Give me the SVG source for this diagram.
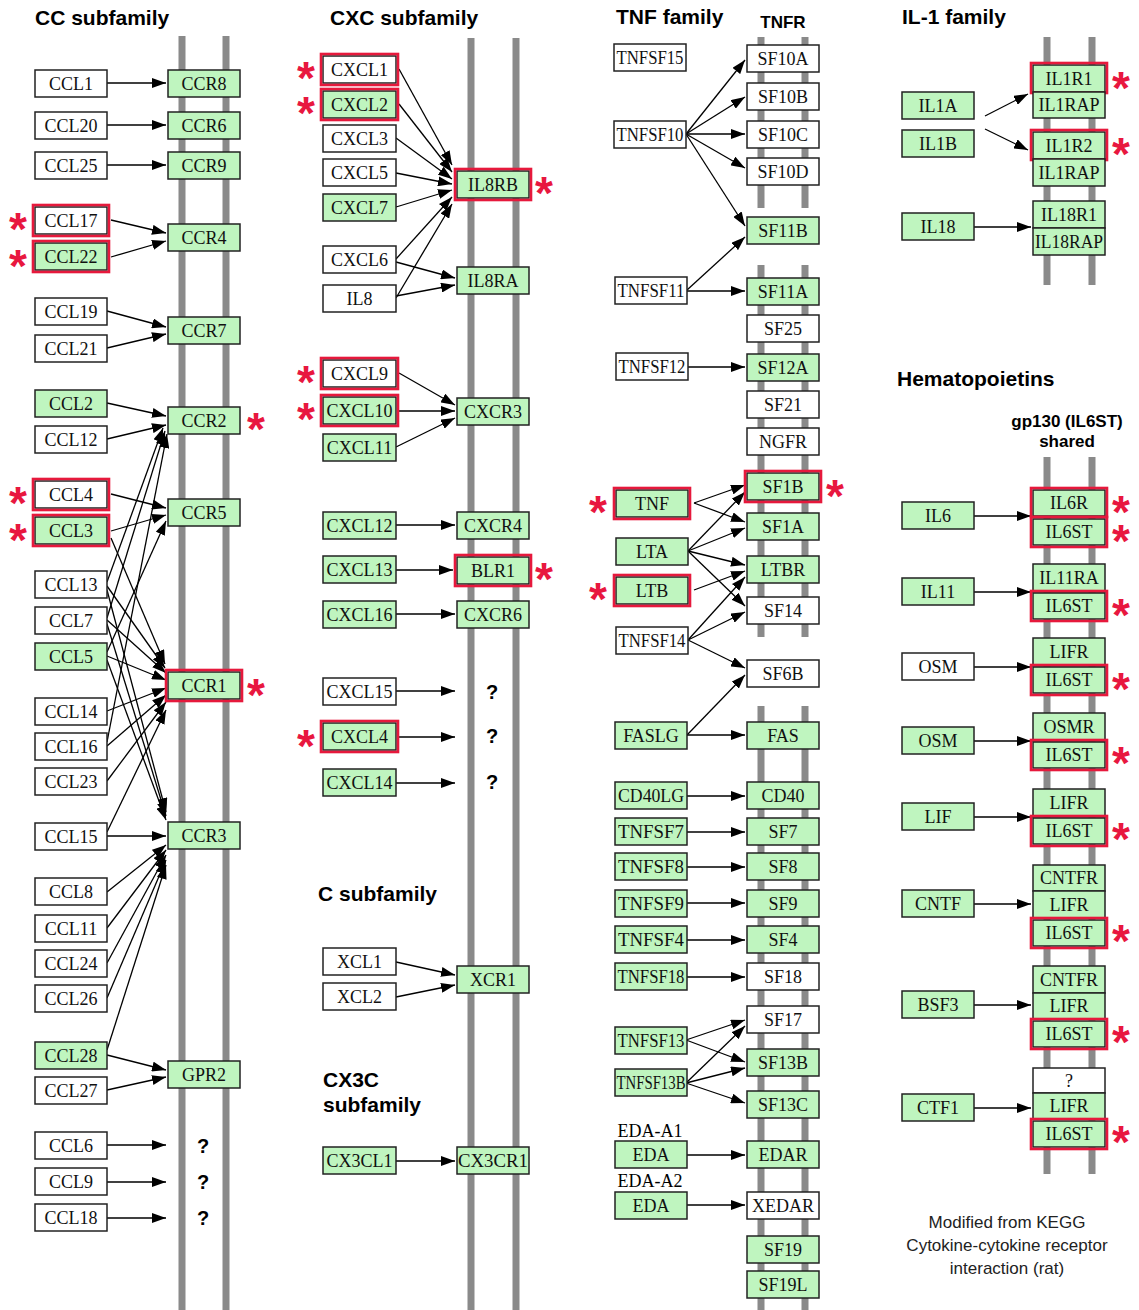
<svg xmlns="http://www.w3.org/2000/svg" width="1139" height="1310" viewBox="0 0 1139 1310">
<style>
.mem{stroke:#8a8a8a;stroke-width:7}
.b{fill:#fff;stroke:#222;stroke-width:1.5}
.g .b{fill:#bff5bf}
.hl{fill:none;stroke:#e6193c;stroke-width:2.6}
.nd text{font-family:"Liberation Serif","Times New Roman",serif;font-size:18px;text-anchor:middle;fill:#111}
.cn line{stroke:#000;stroke-width:1.3;marker-end:url(#ah)}
.ttl{font-family:"Liberation Sans",Arial,sans-serif;font-weight:bold;font-size:21px;fill:#000}
.sub{font-family:"Liberation Sans",Arial,sans-serif;font-weight:bold;font-size:17px;fill:#000;text-anchor:middle}
.q{font-family:"Liberation Sans",Arial,sans-serif;font-weight:bold;font-size:20px;text-anchor:middle}
.lbl{font-family:"Liberation Serif","Times New Roman",serif;font-size:18px;text-anchor:middle}
.note{font-family:"Liberation Sans",Arial,sans-serif;font-size:17px;text-anchor:middle;fill:#222}
.ast{font-family:"Liberation Sans",Arial,sans-serif;font-weight:bold;font-size:46px;fill:#e8173f;text-anchor:middle}
</style>
<defs>
<marker id="ah" viewBox="0 0 14 10" refX="14" refY="5" markerWidth="14" markerHeight="10" markerUnits="userSpaceOnUse" orient="auto"><path d="M0,0 L14,5 L0,10 z" fill="#000"/></marker>
</defs>
<rect width="1139" height="1310" fill="#fff"/>

<g id="titles">
<text class="ttl" x="35" y="25">CC subfamily</text>
<text class="ttl" x="330" y="25">CXC subfamily</text>
<text class="ttl" x="616" y="24">TNF family</text>
<text class="sub" x="783" y="28">TNFR</text>
<text class="ttl" x="902" y="24">IL-1 family</text>
<text class="ttl" x="318" y="901">C subfamily</text>
<text class="ttl" x="323" y="1087">CX3C</text>
<text class="ttl" x="323" y="1112">subfamily</text>
<text class="ttl" x="897" y="386">Hematopoietins</text>
<text class="sub" x="1067" y="427">gp130 (IL6ST)</text>
<text class="sub" x="1067" y="447">shared</text>
<text class="note" x="1007" y="1228">Modified from KEGG</text>
<text class="note" x="1007" y="1251">Cytokine-cytokine receptor</text>
<text class="note" x="1007" y="1274">interaction (rat)</text>
<text class="lbl" x="650" y="1137">EDA-A1</text>
<text class="lbl" x="650" y="1187">EDA-A2</text>
<text class="q" x="203" y="1153">?</text>
<text class="q" x="203" y="1189">?</text>
<text class="q" x="203" y="1225">?</text>
<text class="q" x="492" y="699">?</text>
<text class="q" x="492" y="743">?</text>
<text class="q" x="492" y="789">?</text>
</g>

<g id="membranes" class="mem">
<line x1="182" y1="36" x2="182" y2="1310"/><line x1="226" y1="36" x2="226" y2="1310"/>
<line x1="471" y1="38" x2="471" y2="1310"/><line x1="516" y1="38" x2="516" y2="1310"/>
<line x1="761" y1="37" x2="761" y2="208"/><line x1="805" y1="37" x2="805" y2="208"/>
<line x1="761" y1="265" x2="761" y2="637"/><line x1="805" y1="265" x2="805" y2="637"/>
<line x1="761" y1="706" x2="761" y2="1310"/><line x1="805" y1="706" x2="805" y2="1310"/>
<line x1="1047" y1="37" x2="1047" y2="285"/><line x1="1092" y1="37" x2="1092" y2="285"/>
<line x1="1047" y1="457" x2="1047" y2="1174"/><line x1="1092" y1="457" x2="1092" y2="1174"/>
</g>

<g id="connectors" class="cn">
<line x1="107" y1="83" x2="166" y2="83"/>
<line x1="107" y1="125" x2="166" y2="125"/>
<line x1="107" y1="165" x2="166" y2="165"/>
<line x1="111" y1="220" x2="166" y2="233"/>
<line x1="111" y1="257" x2="166" y2="241"/>
<line x1="107" y1="311" x2="166" y2="327"/>
<line x1="107" y1="348" x2="166" y2="334"/>
<line x1="107" y1="403" x2="166" y2="416"/>
<line x1="107" y1="439" x2="166" y2="425"/>
<line x1="107" y1="582" x2="163" y2="428"/>
<line x1="107" y1="618" x2="165" y2="431"/>
<line x1="107" y1="742" x2="167" y2="434"/>
<line x1="111" y1="494" x2="166" y2="508"/>
<line x1="111" y1="531" x2="166" y2="515"/>
<line x1="107" y1="652" x2="166" y2="521"/>
<line x1="111" y1="538" x2="165" y2="664"/>
<line x1="107" y1="586" x2="165" y2="668"/>
<line x1="107" y1="620" x2="166" y2="673"/>
<line x1="107" y1="656" x2="166" y2="680"/>
<line x1="107" y1="711" x2="166" y2="688"/>
<line x1="107" y1="746" x2="166" y2="695"/>
<line x1="107" y1="781" x2="166" y2="702"/>
<line x1="107" y1="832" x2="166" y2="710"/>
<line x1="107" y1="590" x2="166" y2="812"/>
<line x1="107" y1="624" x2="166" y2="816"/>
<line x1="107" y1="660" x2="166" y2="820"/>
<line x1="107" y1="836" x2="166" y2="836"/>
<line x1="107" y1="892" x2="166" y2="845"/>
<line x1="107" y1="928" x2="166" y2="850"/>
<line x1="107" y1="963" x2="166" y2="855"/>
<line x1="107" y1="998" x2="166" y2="860"/>
<line x1="107" y1="1050" x2="166" y2="865"/>
<line x1="107" y1="1055" x2="166" y2="1070"/>
<line x1="107" y1="1090" x2="166" y2="1077"/>
<line x1="107" y1="1145" x2="166" y2="1145"/>
<line x1="107" y1="1182" x2="166" y2="1182"/>
<line x1="107" y1="1218" x2="166" y2="1218"/>

<line x1="399" y1="69" x2="452" y2="165"/>
<line x1="399" y1="104" x2="452" y2="172"/>
<line x1="396" y1="138" x2="452" y2="179"/>
<line x1="396" y1="173" x2="452" y2="184"/>
<line x1="396" y1="207" x2="452" y2="190"/>
<line x1="396" y1="259" x2="452" y2="197"/>
<line x1="396" y1="298" x2="452" y2="204"/>
<line x1="396" y1="262" x2="455" y2="278"/>
<line x1="396" y1="296" x2="455" y2="285"/>
<line x1="399" y1="373" x2="455" y2="405"/>
<line x1="399" y1="411" x2="455" y2="411"/>
<line x1="396" y1="447" x2="455" y2="418"/>
<line x1="396" y1="525" x2="455" y2="525"/>
<line x1="396" y1="570" x2="453" y2="570"/>
<line x1="396" y1="614" x2="455" y2="614"/>
<line x1="396" y1="691" x2="455" y2="691"/>
<line x1="399" y1="737" x2="455" y2="737"/>
<line x1="396" y1="783" x2="455" y2="783"/>
<line x1="396" y1="962" x2="455" y2="975"/>
<line x1="396" y1="997" x2="455" y2="985"/>
<line x1="396" y1="1161" x2="455" y2="1161"/>

<line x1="686" y1="134" x2="745" y2="60"/>
<line x1="686" y1="134" x2="745" y2="97"/>
<line x1="686" y1="134" x2="745" y2="134"/>
<line x1="686" y1="134" x2="745" y2="168"/>
<line x1="686" y1="134" x2="745" y2="226"/>
<line x1="687" y1="290" x2="745" y2="237"/>
<line x1="687" y1="291" x2="745" y2="291"/>
<line x1="688" y1="367" x2="745" y2="367"/>
<line x1="694" y1="503" x2="745" y2="485"/>
<line x1="694" y1="503" x2="745" y2="522"/>
<line x1="688" y1="551" x2="745" y2="492"/>
<line x1="688" y1="551" x2="745" y2="528"/>
<line x1="688" y1="551" x2="745" y2="565"/>
<line x1="688" y1="551" x2="745" y2="606"/>
<line x1="694" y1="590" x2="745" y2="571"/>
<line x1="688" y1="640" x2="745" y2="577"/>
<line x1="688" y1="640" x2="745" y2="612"/>
<line x1="688" y1="640" x2="745" y2="668"/>
<line x1="687" y1="735" x2="745" y2="675"/>
<line x1="687" y1="735" x2="745" y2="735"/>
<line x1="686" y1="796" x2="745" y2="796"/>
<line x1="686" y1="832" x2="745" y2="832"/>
<line x1="686" y1="867" x2="745" y2="867"/>
<line x1="686" y1="903" x2="745" y2="903"/>
<line x1="686" y1="940" x2="745" y2="940"/>
<line x1="686" y1="977" x2="745" y2="977"/>
<line x1="686" y1="1040" x2="745" y2="1020"/>
<line x1="686" y1="1040" x2="745" y2="1062"/>
<line x1="686" y1="1083" x2="745" y2="1026"/>
<line x1="686" y1="1083" x2="745" y2="1068"/>
<line x1="686" y1="1083" x2="745" y2="1103"/>
<line x1="686" y1="1155" x2="745" y2="1155"/>
<line x1="686" y1="1205" x2="745" y2="1205"/>

<line x1="985" y1="116" x2="1028" y2="94"/>
<line x1="985" y1="129" x2="1028" y2="150"/>
<line x1="974" y1="227" x2="1031" y2="227"/>
<line x1="974" y1="516" x2="1031" y2="516"/>
<line x1="974" y1="592" x2="1031" y2="592"/>
<line x1="974" y1="667" x2="1031" y2="667"/>
<line x1="974" y1="741" x2="1031" y2="741"/>
<line x1="974" y1="817" x2="1031" y2="817"/>
<line x1="974" y1="904" x2="1031" y2="904"/>
<line x1="974" y1="1005" x2="1031" y2="1005"/>
<line x1="974" y1="1108" x2="1031" y2="1108"/>
</g>

<g id="nodes">
<g id="CCL1" class="nd"><rect class="b" x="35" y="70" width="72" height="27"/><text x="71" y="89.5">CCL1</text></g>
<g id="CCL20" class="nd"><rect class="b" x="35" y="112" width="72" height="27"/><text x="71" y="131.5">CCL20</text></g>
<g id="CCL25" class="nd"><rect class="b" x="35" y="152" width="72" height="27"/><text x="71" y="171.5">CCL25</text></g>
<g id="CCL17" class="nd"><rect class="b" x="35" y="207" width="72" height="27"/><rect class="hl" x="33" y="205" width="76" height="31"/><text x="71" y="226.5">CCL17</text></g>
<g id="CCL22" class="nd g"><rect class="b" x="35" y="243" width="72" height="27"/><rect class="hl" x="33" y="241" width="76" height="31"/><text x="71" y="262.5">CCL22</text></g>
<g id="CCL19" class="nd"><rect class="b" x="35" y="298" width="72" height="27"/><text x="71" y="317.5">CCL19</text></g>
<g id="CCL21" class="nd"><rect class="b" x="35" y="335" width="72" height="27"/><text x="71" y="354.5">CCL21</text></g>
<g id="CCL2" class="nd g"><rect class="b" x="35" y="390" width="72" height="27"/><text x="71" y="409.5">CCL2</text></g>
<g id="CCL12" class="nd"><rect class="b" x="35" y="426" width="72" height="27"/><text x="71" y="445.5">CCL12</text></g>
<g id="CCL4" class="nd"><rect class="b" x="35" y="481" width="72" height="27"/><rect class="hl" x="33" y="479" width="76" height="31"/><text x="71" y="500.5">CCL4</text></g>
<g id="CCL3" class="nd g"><rect class="b" x="35" y="517" width="72" height="27"/><rect class="hl" x="33" y="515" width="76" height="31"/><text x="71" y="536.5">CCL3</text></g>
<g id="CCL13" class="nd"><rect class="b" x="35" y="571" width="72" height="27"/><text x="71" y="590.5">CCL13</text></g>
<g id="CCL7" class="nd"><rect class="b" x="35" y="607" width="72" height="27"/><text x="71" y="626.5">CCL7</text></g>
<g id="CCL5" class="nd g"><rect class="b" x="35" y="643" width="72" height="27"/><text x="71" y="662.5">CCL5</text></g>
<g id="CCL14" class="nd"><rect class="b" x="35" y="698" width="72" height="27"/><text x="71" y="717.5">CCL14</text></g>
<g id="CCL16" class="nd"><rect class="b" x="35" y="733" width="72" height="27"/><text x="71" y="752.5">CCL16</text></g>
<g id="CCL23" class="nd"><rect class="b" x="35" y="768" width="72" height="27"/><text x="71" y="787.5">CCL23</text></g>
<g id="CCL15" class="nd"><rect class="b" x="35" y="823" width="72" height="27"/><text x="71" y="842.5">CCL15</text></g>
<g id="CCL8" class="nd"><rect class="b" x="35" y="878" width="72" height="27"/><text x="71" y="897.5">CCL8</text></g>
<g id="CCL11" class="nd"><rect class="b" x="35" y="915" width="72" height="27"/><text x="71" y="934.5">CCL11</text></g>
<g id="CCL24" class="nd"><rect class="b" x="35" y="950" width="72" height="27"/><text x="71" y="969.5">CCL24</text></g>
<g id="CCL26" class="nd"><rect class="b" x="35" y="985" width="72" height="27"/><text x="71" y="1004.5">CCL26</text></g>
<g id="CCL28" class="nd g"><rect class="b" x="35" y="1042" width="72" height="27"/><text x="71" y="1061.5">CCL28</text></g>
<g id="CCL27" class="nd"><rect class="b" x="35" y="1077" width="72" height="27"/><text x="71" y="1096.5">CCL27</text></g>
<g id="CCL6" class="nd"><rect class="b" x="35" y="1132" width="72" height="27"/><text x="71" y="1151.5">CCL6</text></g>
<g id="CCL9" class="nd"><rect class="b" x="35" y="1168" width="72" height="27"/><text x="71" y="1187.5">CCL9</text></g>
<g id="CCL18" class="nd"><rect class="b" x="35" y="1204" width="72" height="27"/><text x="71" y="1223.5">CCL18</text></g>
<g id="CCR8" class="nd g"><rect class="b" x="168" y="70" width="72" height="27"/><text x="204" y="89.5">CCR8</text></g>
<g id="CCR6" class="nd g"><rect class="b" x="168" y="112" width="72" height="27"/><text x="204" y="131.5">CCR6</text></g>
<g id="CCR9" class="nd g"><rect class="b" x="168" y="152" width="72" height="27"/><text x="204" y="171.5">CCR9</text></g>
<g id="CCR4" class="nd g"><rect class="b" x="168" y="224" width="72" height="27"/><text x="204" y="243.5">CCR4</text></g>
<g id="CCR7" class="nd g"><rect class="b" x="168" y="317" width="72" height="27"/><text x="204" y="336.5">CCR7</text></g>
<g id="CCR2" class="nd g"><rect class="b" x="168" y="407" width="72" height="27"/><text x="204" y="426.5">CCR2</text></g>
<g id="CCR5" class="nd g"><rect class="b" x="168" y="499" width="72" height="27"/><text x="204" y="518.5">CCR5</text></g>
<g id="CCR1" class="nd g"><rect class="b" x="168" y="672" width="72" height="27"/><rect class="hl" x="166" y="670" width="76" height="31"/><text x="204" y="691.5">CCR1</text></g>
<g id="CCR3" class="nd g"><rect class="b" x="168" y="822" width="72" height="27"/><text x="204" y="841.5">CCR3</text></g>
<g id="GPR2" class="nd g"><rect class="b" x="168" y="1061" width="72" height="27"/><text x="204" y="1080.5">GPR2</text></g>
<g id="CXCL1" class="nd"><rect class="b" x="323" y="56" width="73" height="27"/><rect class="hl" x="321" y="54" width="77" height="31"/><text x="359.5" y="75.5">CXCL1</text></g>
<g id="CXCL2" class="nd g"><rect class="b" x="323" y="91" width="73" height="27"/><rect class="hl" x="321" y="89" width="77" height="31"/><text x="359.5" y="110.5">CXCL2</text></g>
<g id="CXCL3" class="nd"><rect class="b" x="323" y="125" width="73" height="27"/><text x="359.5" y="144.5">CXCL3</text></g>
<g id="CXCL5" class="nd"><rect class="b" x="323" y="159" width="73" height="27"/><text x="359.5" y="178.5">CXCL5</text></g>
<g id="CXCL7" class="nd g"><rect class="b" x="323" y="194" width="73" height="27"/><text x="359.5" y="213.5">CXCL7</text></g>
<g id="CXCL6" class="nd"><rect class="b" x="323" y="246" width="73" height="27"/><text x="359.5" y="265.5">CXCL6</text></g>
<g id="IL8" class="nd"><rect class="b" x="323" y="285" width="73" height="27"/><text x="359.5" y="304.5">IL8</text></g>
<g id="CXCL9" class="nd"><rect class="b" x="323" y="360" width="73" height="27"/><rect class="hl" x="321" y="358" width="77" height="31"/><text x="359.5" y="379.5">CXCL9</text></g>
<g id="CXCL10" class="nd g"><rect class="b" x="323" y="397" width="73" height="27"/><rect class="hl" x="321" y="395" width="77" height="31"/><text x="359.5" y="416.5">CXCL10</text></g>
<g id="CXCL11" class="nd g"><rect class="b" x="323" y="434" width="73" height="27"/><text x="359.5" y="453.5">CXCL11</text></g>
<g id="CXCL12" class="nd g"><rect class="b" x="323" y="512" width="73" height="27"/><text x="359.5" y="531.5">CXCL12</text></g>
<g id="CXCL13" class="nd g"><rect class="b" x="323" y="556" width="73" height="27"/><text x="359.5" y="575.5">CXCL13</text></g>
<g id="CXCL16" class="nd g"><rect class="b" x="323" y="601" width="73" height="27"/><text x="359.5" y="620.5">CXCL16</text></g>
<g id="CXCL15" class="nd"><rect class="b" x="323" y="678" width="73" height="27"/><text x="359.5" y="697.5">CXCL15</text></g>
<g id="CXCL4" class="nd g"><rect class="b" x="323" y="723" width="73" height="27"/><rect class="hl" x="321" y="721" width="77" height="31"/><text x="359.5" y="742.5">CXCL4</text></g>
<g id="CXCL14" class="nd g"><rect class="b" x="323" y="769" width="73" height="27"/><text x="359.5" y="788.5">CXCL14</text></g>
<g id="XCL1" class="nd"><rect class="b" x="323" y="948" width="73" height="27"/><text x="359.5" y="967.5">XCL1</text></g>
<g id="XCL2" class="nd"><rect class="b" x="323" y="983" width="73" height="27"/><text x="359.5" y="1002.5">XCL2</text></g>
<g id="CX3CL1" class="nd g"><rect class="b" x="323" y="1147" width="73" height="27"/><text x="359.5" y="1166.5">CX3CL1</text></g>
<g id="IL8RB" class="nd g"><rect class="b" x="457" y="171" width="72" height="27"/><rect class="hl" x="455" y="169" width="76" height="31"/><text x="493" y="190.5">IL8RB</text></g>
<g id="IL8RA" class="nd g"><rect class="b" x="457" y="267" width="72" height="27"/><text x="493" y="286.5">IL8RA</text></g>
<g id="CXCR3" class="nd g"><rect class="b" x="457" y="398" width="72" height="27"/><text x="493" y="417.5">CXCR3</text></g>
<g id="CXCR4" class="nd g"><rect class="b" x="457" y="512" width="72" height="27"/><text x="493" y="531.5">CXCR4</text></g>
<g id="BLR1" class="nd g"><rect class="b" x="457" y="557" width="72" height="27"/><rect class="hl" x="455" y="555" width="76" height="31"/><text x="493" y="576.5">BLR1</text></g>
<g id="CXCR6" class="nd g"><rect class="b" x="457" y="601" width="72" height="27"/><text x="493" y="620.5">CXCR6</text></g>
<g id="XCR1" class="nd g"><rect class="b" x="457" y="966" width="72" height="27"/><text x="493" y="985.5">XCR1</text></g>
<g id="CX3CR1" class="nd g"><rect class="b" x="457" y="1147" width="72" height="27"/><text x="493" y="1166.5" textLength="70" lengthAdjust="spacingAndGlyphs">CX3CR1</text></g>
<g id="TNFSF15" class="nd"><rect class="b" x="614" y="44" width="72" height="27"/><text x="650" y="63.5" textLength="67" lengthAdjust="spacingAndGlyphs">TNFSF15</text></g>
<g id="TNFSF10" class="nd"><rect class="b" x="614" y="121" width="72" height="27"/><text x="650" y="140.5" textLength="67" lengthAdjust="spacingAndGlyphs">TNFSF10</text></g>
<g id="TNFSF11" class="nd"><rect class="b" x="615" y="277" width="72" height="27"/><text x="651" y="296.5" textLength="67" lengthAdjust="spacingAndGlyphs">TNFSF11</text></g>
<g id="TNFSF12" class="nd"><rect class="b" x="616" y="353" width="72" height="27"/><text x="652" y="372.5" textLength="67" lengthAdjust="spacingAndGlyphs">TNFSF12</text></g>
<g id="TNF" class="nd g"><rect class="b" x="616" y="490" width="72" height="27"/><rect class="hl" x="614" y="488" width="76" height="31"/><text x="652" y="509.5">TNF</text></g>
<g id="LTA" class="nd g"><rect class="b" x="616" y="538" width="72" height="27"/><text x="652" y="557.5">LTA</text></g>
<g id="LTB" class="nd g"><rect class="b" x="616" y="577" width="72" height="27"/><rect class="hl" x="614" y="575" width="76" height="31"/><text x="652" y="596.5">LTB</text></g>
<g id="TNFSF14" class="nd"><rect class="b" x="616" y="627" width="72" height="27"/><text x="652" y="646.5" textLength="67" lengthAdjust="spacingAndGlyphs">TNFSF14</text></g>
<g id="FASLG" class="nd g"><rect class="b" x="615" y="722" width="72" height="27"/><text x="651" y="741.5">FASLG</text></g>
<g id="CD40LG" class="nd g"><rect class="b" x="615" y="782" width="72" height="27"/><text x="651" y="801.5" textLength="66" lengthAdjust="spacingAndGlyphs">CD40LG</text></g>
<g id="TNFSF7" class="nd g"><rect class="b" x="615" y="818" width="72" height="27"/><text x="651" y="837.5" textLength="66" lengthAdjust="spacingAndGlyphs">TNFSF7</text></g>
<g id="TNFSF8" class="nd g"><rect class="b" x="615" y="853" width="72" height="27"/><text x="651" y="872.5" textLength="66" lengthAdjust="spacingAndGlyphs">TNFSF8</text></g>
<g id="TNFSF9" class="nd g"><rect class="b" x="615" y="890" width="72" height="27"/><text x="651" y="909.5" textLength="66" lengthAdjust="spacingAndGlyphs">TNFSF9</text></g>
<g id="TNFSF4" class="nd g"><rect class="b" x="615" y="926" width="72" height="27"/><text x="651" y="945.5" textLength="66" lengthAdjust="spacingAndGlyphs">TNFSF4</text></g>
<g id="TNFSF18" class="nd g"><rect class="b" x="615" y="963" width="72" height="27"/><text x="651" y="982.5" textLength="67" lengthAdjust="spacingAndGlyphs">TNFSF18</text></g>
<g id="TNFSF13" class="nd g"><rect class="b" x="615" y="1027" width="72" height="27"/><text x="651" y="1046.5" textLength="67" lengthAdjust="spacingAndGlyphs">TNFSF13</text></g>
<g id="TNFSF13B" class="nd g"><rect class="b" x="615" y="1069" width="72" height="27"/><text x="651" y="1088.5" textLength="69" lengthAdjust="spacingAndGlyphs">TNFSF13B</text></g>
<g id="EDA-A1" class="nd g"><rect class="b" x="615" y="1141" width="72" height="27"/><text x="651" y="1160.5">EDA</text></g>
<g id="EDA-A2" class="nd g"><rect class="b" x="615" y="1192" width="72" height="27"/><text x="651" y="1211.5">EDA</text></g>
<g id="SF10A" class="nd"><rect class="b" x="747" y="45" width="72" height="27"/><text x="783" y="64.5">SF10A</text></g>
<g id="SF10B" class="nd"><rect class="b" x="747" y="83" width="72" height="27"/><text x="783" y="102.5">SF10B</text></g>
<g id="SF10C" class="nd"><rect class="b" x="747" y="121" width="72" height="27"/><text x="783" y="140.5">SF10C</text></g>
<g id="SF10D" class="nd"><rect class="b" x="747" y="158" width="72" height="27"/><text x="783" y="177.5">SF10D</text></g>
<g id="SF11B" class="nd g"><rect class="b" x="747" y="217" width="72" height="27"/><text x="783" y="236.5">SF11B</text></g>
<g id="SF11A" class="nd g"><rect class="b" x="747" y="278" width="72" height="27"/><text x="783" y="297.5">SF11A</text></g>
<g id="SF25" class="nd"><rect class="b" x="747" y="315" width="72" height="27"/><text x="783" y="334.5">SF25</text></g>
<g id="SF12A" class="nd g"><rect class="b" x="747" y="354" width="72" height="27"/><text x="783" y="373.5">SF12A</text></g>
<g id="SF21" class="nd"><rect class="b" x="747" y="391" width="72" height="27"/><text x="783" y="410.5">SF21</text></g>
<g id="NGFR" class="nd"><rect class="b" x="747" y="428" width="72" height="27"/><text x="783" y="447.5">NGFR</text></g>
<g id="SF1B" class="nd g"><rect class="b" x="747" y="473" width="72" height="27"/><rect class="hl" x="745" y="471" width="76" height="31"/><text x="783" y="492.5">SF1B</text></g>
<g id="SF1A" class="nd g"><rect class="b" x="747" y="513" width="72" height="27"/><text x="783" y="532.5">SF1A</text></g>
<g id="LTBR" class="nd g"><rect class="b" x="747" y="556" width="72" height="27"/><text x="783" y="575.5">LTBR</text></g>
<g id="SF14" class="nd"><rect class="b" x="747" y="597" width="72" height="27"/><text x="783" y="616.5">SF14</text></g>
<g id="SF6B" class="nd"><rect class="b" x="747" y="660" width="72" height="27"/><text x="783" y="679.5">SF6B</text></g>
<g id="FAS" class="nd g"><rect class="b" x="747" y="722" width="72" height="27"/><text x="783" y="741.5">FAS</text></g>
<g id="CD40" class="nd g"><rect class="b" x="747" y="782" width="72" height="27"/><text x="783" y="801.5">CD40</text></g>
<g id="SF7" class="nd g"><rect class="b" x="747" y="818" width="72" height="27"/><text x="783" y="837.5">SF7</text></g>
<g id="SF8" class="nd g"><rect class="b" x="747" y="853" width="72" height="27"/><text x="783" y="872.5">SF8</text></g>
<g id="SF9" class="nd g"><rect class="b" x="747" y="890" width="72" height="27"/><text x="783" y="909.5">SF9</text></g>
<g id="SF4" class="nd g"><rect class="b" x="747" y="926" width="72" height="27"/><text x="783" y="945.5">SF4</text></g>
<g id="SF18" class="nd"><rect class="b" x="747" y="963" width="72" height="27"/><text x="783" y="982.5">SF18</text></g>
<g id="SF17" class="nd"><rect class="b" x="747" y="1006" width="72" height="27"/><text x="783" y="1025.5">SF17</text></g>
<g id="SF13B" class="nd g"><rect class="b" x="747" y="1049" width="72" height="27"/><text x="783" y="1068.5">SF13B</text></g>
<g id="SF13C" class="nd g"><rect class="b" x="747" y="1091" width="72" height="27"/><text x="783" y="1110.5">SF13C</text></g>
<g id="EDAR" class="nd g"><rect class="b" x="747" y="1141" width="72" height="27"/><text x="783" y="1160.5">EDAR</text></g>
<g id="XEDAR" class="nd"><rect class="b" x="747" y="1192" width="72" height="27"/><text x="783" y="1211.5">XEDAR</text></g>
<g id="SF19" class="nd g"><rect class="b" x="747" y="1236" width="72" height="27"/><text x="783" y="1255.5">SF19</text></g>
<g id="SF19L" class="nd g"><rect class="b" x="747" y="1271" width="72" height="27"/><text x="783" y="1290.5">SF19L</text></g>
<g id="IL1A" class="nd g"><rect class="b" x="902" y="92" width="72" height="27"/><text x="938" y="111.5">IL1A</text></g>
<g id="IL1B" class="nd g"><rect class="b" x="902" y="130" width="72" height="27"/><text x="938" y="149.5">IL1B</text></g>
<g id="IL18" class="nd g"><rect class="b" x="902" y="213" width="72" height="27"/><text x="938" y="232.5">IL18</text></g>
<g id="IL1R1" class="nd g"><rect class="b" x="1033" y="65" width="72" height="27"/><rect class="hl" x="1031" y="63" width="76" height="30"/><text x="1069" y="84.5">IL1R1</text></g>
<g id="IL1RAP-1" class="nd g"><rect class="b" x="1033" y="92" width="72" height="26"/><text x="1069" y="111">IL1RAP</text></g>
<g id="IL1R2" class="nd g"><rect class="b" x="1033" y="132" width="72" height="27"/><rect class="hl" x="1031" y="130" width="76" height="30"/><text x="1069" y="151.5">IL1R2</text></g>
<g id="IL1RAP-2" class="nd g"><rect class="b" x="1033" y="159" width="72" height="27"/><text x="1069" y="178.5">IL1RAP</text></g>
<g id="IL18R1" class="nd g"><rect class="b" x="1033" y="201" width="72" height="27"/><text x="1069" y="220.5">IL18R1</text></g>
<g id="IL18RAP" class="nd g"><rect class="b" x="1033" y="228" width="72" height="27"/><text x="1069" y="247.5" textLength="68" lengthAdjust="spacingAndGlyphs">IL18RAP</text></g>
<g id="IL6" class="nd g"><rect class="b" x="902" y="502" width="72" height="27"/><text x="938" y="521.5">IL6</text></g>
<g id="IL11" class="nd g"><rect class="b" x="902" y="578" width="72" height="27"/><text x="938" y="597.5">IL11</text></g>
<g id="OSM-1" class="nd"><rect class="b" x="902" y="653" width="72" height="27"/><text x="938" y="672.5">OSM</text></g>
<g id="OSM-2" class="nd g"><rect class="b" x="902" y="727" width="72" height="27"/><text x="938" y="746.5">OSM</text></g>
<g id="LIF" class="nd g"><rect class="b" x="902" y="803" width="72" height="27"/><text x="938" y="822.5">LIF</text></g>
<g id="CNTF" class="nd g"><rect class="b" x="902" y="890" width="72" height="27"/><text x="938" y="909.5">CNTF</text></g>
<g id="BSF3" class="nd g"><rect class="b" x="902" y="991" width="72" height="27"/><text x="938" y="1010.5">BSF3</text></g>
<g id="CTF1" class="nd g"><rect class="b" x="902" y="1094" width="72" height="27"/><text x="938" y="1113.5">CTF1</text></g>
<g id="IL6R" class="nd g"><rect class="b" x="1033" y="490" width="72" height="26"/><rect class="hl" x="1031" y="488" width="76" height="29"/><text x="1069" y="509">IL6R</text></g>
<g id="IL6ST-1" class="nd g"><rect class="b" x="1033" y="519" width="72" height="26"/><rect class="hl" x="1031" y="517" width="76" height="30"/><text x="1069" y="538">IL6ST</text></g>
<g id="IL11RA" class="nd g"><rect class="b" x="1033" y="564" width="72" height="28"/><text x="1069" y="584">IL11RA</text></g>
<g id="IL6ST-2" class="nd g"><rect class="b" x="1033" y="593" width="72" height="26"/><rect class="hl" x="1031" y="591" width="76" height="30"/><text x="1069" y="612">IL6ST</text></g>
<g id="LIFR-1" class="nd g"><rect class="b" x="1033" y="638" width="72" height="28"/><text x="1069" y="658">LIFR</text></g>
<g id="IL6ST-3" class="nd g"><rect class="b" x="1033" y="667" width="72" height="26"/><rect class="hl" x="1031" y="665" width="76" height="30"/><text x="1069" y="686">IL6ST</text></g>
<g id="OSMR" class="nd g"><rect class="b" x="1033" y="713" width="72" height="28"/><text x="1069" y="733">OSMR</text></g>
<g id="IL6ST-4" class="nd g"><rect class="b" x="1033" y="742" width="72" height="26"/><rect class="hl" x="1031" y="740" width="76" height="30"/><text x="1069" y="761">IL6ST</text></g>
<g id="LIFR-2" class="nd g"><rect class="b" x="1033" y="789" width="72" height="28"/><text x="1069" y="809">LIFR</text></g>
<g id="IL6ST-5" class="nd g"><rect class="b" x="1033" y="818" width="72" height="26"/><rect class="hl" x="1031" y="816" width="76" height="30"/><text x="1069" y="837">IL6ST</text></g>
<g id="CNTFR-1" class="nd g"><rect class="b" x="1033" y="865" width="72" height="26"/><text x="1069" y="884">CNTFR</text></g>
<g id="LIFR-3" class="nd g"><rect class="b" x="1033" y="891" width="72" height="27"/><text x="1069" y="910.5">LIFR</text></g>
<g id="IL6ST-6" class="nd g"><rect class="b" x="1033" y="920" width="72" height="26"/><rect class="hl" x="1031" y="918" width="76" height="30"/><text x="1069" y="939">IL6ST</text></g>
<g id="CNTFR-2" class="nd g"><rect class="b" x="1033" y="966" width="72" height="27"/><text x="1069" y="985.5">CNTFR</text></g>
<g id="LIFR-4" class="nd g"><rect class="b" x="1033" y="993" width="72" height="26"/><text x="1069" y="1012">LIFR</text></g>
<g id="IL6ST-7" class="nd g"><rect class="b" x="1033" y="1021" width="72" height="26"/><rect class="hl" x="1031" y="1019" width="76" height="30"/><text x="1069" y="1040">IL6ST</text></g>
<g id="Q-receptor" class="nd"><rect class="b" x="1033" y="1068" width="72" height="25"/><text x="1069" y="1086.5">?</text></g>
<g id="LIFR-5" class="nd g"><rect class="b" x="1033" y="1093" width="72" height="26"/><text x="1069" y="1112">LIFR</text></g>
<g id="IL6ST-8" class="nd g"><rect class="b" x="1033" y="1121" width="72" height="26"/><rect class="hl" x="1031" y="1119" width="76" height="30"/><text x="1069" y="1140">IL6ST</text></g>
</g>

<g id="asterisks" class="ast">
<text x="18 18" y="245 282">**</text>
<text x="18 18" y="519 556">**</text>
<text x="256" y="445">*</text><text x="256" y="711">*</text>
<text x="306 306" y="94 129">**</text>
<text x="306 306" y="398 435">**</text>
<text x="306" y="762">*</text>
<text x="544" y="209">*</text><text x="544" y="595">*</text>
<text x="598" y="528">*</text><text x="598" y="615">*</text><text x="835" y="512">*</text>
<text x="1121" y="104">*</text><text x="1121" y="170">*</text>
<text x="1121 1121" y="528 557">**</text>
<text x="1121" y="631">*</text><text x="1121" y="705">*</text><text x="1121" y="779">*</text><text x="1121" y="855">*</text>
<text x="1121" y="957">*</text><text x="1121" y="1058">*</text><text x="1121" y="1158">*</text>
</g>
</svg>
